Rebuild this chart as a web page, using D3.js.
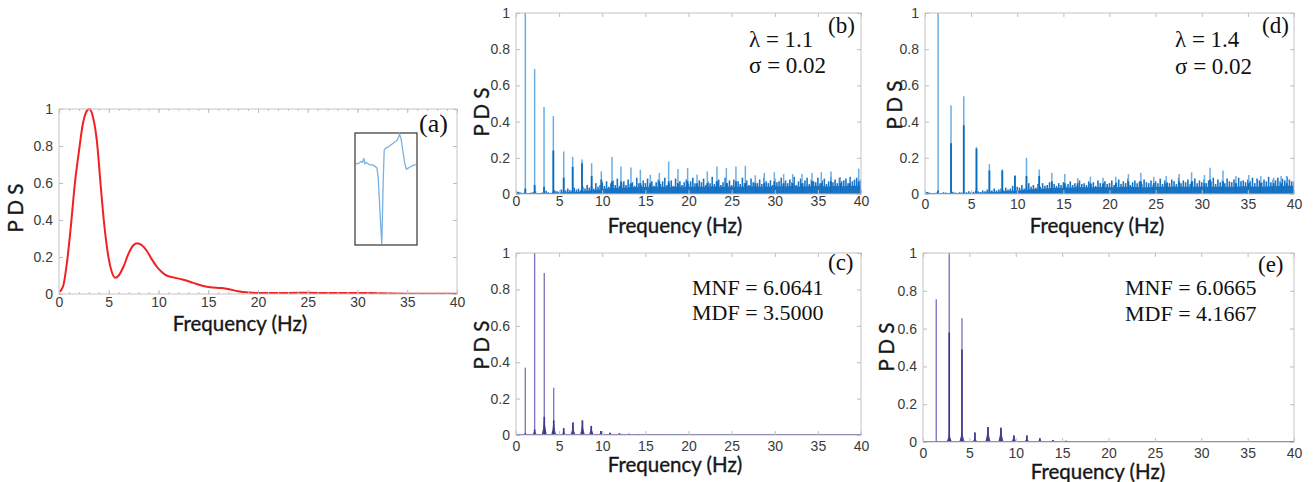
<!DOCTYPE html>
<html>
<head>
<meta charset="utf-8">
<script src="https://cdn.jsdelivr.net/npm/d3@7"></script>
<style>
  body { margin: 0; background: #fff; }
  .tick line { stroke: #bdbdbd; }
  .title { font-family: Lato, "Open Sans", sans-serif; font-size: 20.5px; fill: #161616; stroke: #161616; stroke-width: 0.35px; }
  .note { font-family: "Liberation Serif", "Times New Roman", serif; fill: #111; }
</style>
</head>
<body>
<script>
// ---- data ----
var xTicks = [0, 5, 10, 15, 20, 25, 30, 35, 40];
var yTicks = [0, 0.2, 0.4, 0.6, 0.8, 1];

// (a) smooth PDS
var aFreq = [0, 0.4, 0.8, 1.2, 1.6, 2, 2.4, 2.8, 3.05, 3.4, 3.8, 4.2, 4.5, 5, 5.3, 5.65, 6, 6.5, 7, 7.5, 7.85, 8.3, 8.8, 9.3, 9.8, 10.3, 10.8, 11.5, 12.5, 13.5, 14.5, 15.2, 16.4, 17, 18, 19, 20, 22, 24, 26, 28, 30, 32, 35, 40];
var aPds = [0.01, 0.04, 0.17, 0.37, 0.6, 0.77, 0.92, 0.99, 1.0, 0.96, 0.83, 0.58, 0.4, 0.19, 0.12, 0.088, 0.1, 0.15, 0.22, 0.265, 0.275, 0.265, 0.235, 0.19, 0.15, 0.12, 0.1, 0.09, 0.077, 0.06, 0.043, 0.036, 0.032, 0.027, 0.015, 0.008, 0.005, 0.005, 0.007, 0.006, 0.006, 0.006, 0.004, 0.002, 0.001];

// (a) inset waveform (0..1 across, 0..1 from top)
var insetT = [0, 0.04, 0.08, 0.11, 0.13, 0.15, 0.17, 0.2, 0.23, 0.27, 0.31, 0.35, 0.37, 0.39, 0.41, 0.43, 0.44, 0.455, 0.47, 0.49, 0.53, 0.58, 0.63, 0.68, 0.71, 0.725, 0.75, 0.78, 0.81, 0.84, 0.87, 0.9, 0.94, 0.97, 1];
var insetV = [0.27, 0.27, 0.25, 0.26, 0.22, 0.27, 0.26, 0.27, 0.28, 0.28, 0.29, 0.31, 0.4, 0.6, 0.82, 1.0, 0.75, 0.4, 0.15, 0.13, 0.12, 0.1, 0.08, 0.06, 0.03, 0.0, 0.04, 0.15, 0.26, 0.32, 0.31, 0.3, 0.29, 0.28, 0.28];

// (b) lambda = 1.1
var bFreq = [1.08, 2.16, 3.25, 4.33, 5.53, 6.57, 7.65, 8.77, 9.89, 11.13, 12.17, 13.33, 14.42, 15.57, 16.62, 17.7, 18.78, 19.9, 20.99, 22.18, 23.3, 24.39, 25.5, 26.59, 27.75, 28.79, 29.95, 31.03, 32.08, 33.16, 34.32, 35.4, 36.52, 37.6, 38.69, 39.73];
var bPeak = [1.0, 0.69, 0.48, 0.43, 0.235, 0.205, 0.19, 0.17, 0.125, 0.205, 0.152, 0.147, 0.134, 0.106, 0.116, 0.18, 0.138, 0.143, 0.106, 0.125, 0.152, 0.143, 0.152, 0.156, 0.103, 0.116, 0.12, 0.11, 0.11, 0.11, 0.116, 0.12, 0.125, 0.094, 0.088, 0.14];
var bBody = [0.03, 0.05, 0.04, 0.24, 0.09, 0.15, 0.17, 0.1, 0.08, 0.07, 0.07, 0.06, 0.06, 0.06, 0.07, 0.07, 0.06, 0.07, 0.06, 0.06, 0.07, 0.06, 0.07, 0.06, 0.06, 0.06, 0.07, 0.06, 0.06, 0.06, 0.07, 0.06, 0.07, 0.06, 0.06, 0.07];
var noiseStep = 0.25;
var bNoise = [
  0.02, 0.012, 0.006, 0.004, 0.012, 0.006, 0.005, 0.008, 0.01, 0.015, 0.006, 0.005, 0.008, 0.012, 0.018, 0.01, 0.006, 0.012, 0.02, 0.015,
  0.012, 0.025, 0.018, 0.02, 0.03, 0.022, 0.018, 0.035, 0.025, 0.03, 0.02, 0.04, 0.03, 0.05, 0.035, 0.045, 0.03, 0.06, 0.04, 0.05,
  0.065, 0.045, 0.07, 0.04, 0.06, 0.075, 0.05, 0.085, 0.045, 0.06, 0.07, 0.05, 0.08, 0.055, 0.065, 0.045, 0.09, 0.06, 0.05, 0.075,
  0.06, 0.085, 0.05, 0.07, 0.045, 0.065, 0.08, 0.055, 0.07, 0.09, 0.05, 0.06, 0.075, 0.045, 0.085, 0.06, 0.07, 0.05, 0.065, 0.08,
  0.055, 0.07, 0.09, 0.06, 0.05, 0.075, 0.065, 0.085, 0.05, 0.07, 0.06, 0.095, 0.055, 0.07, 0.08, 0.05, 0.065, 0.09, 0.06, 0.075,
  0.05, 0.08, 0.065, 0.07, 0.055, 0.09, 0.06, 0.075, 0.05, 0.085, 0.065, 0.07, 0.06, 0.08, 0.055, 0.09, 0.07, 0.06, 0.075, 0.05,
  0.085, 0.065, 0.07, 0.09, 0.055, 0.075, 0.06, 0.08, 0.065, 0.095, 0.05, 0.07, 0.085, 0.06, 0.075, 0.09, 0.055, 0.08, 0.07, 0.065,
  0.09, 0.06, 0.075, 0.085, 0.055, 0.07, 0.095, 0.065, 0.08, 0.06, 0.09, 0.07, 0.075, 0.085, 0.06, 0.095, 0.07, 0.08, 0.09, 0.075,
  0.08];
var bFloor = [0.012, 0.005, 0.005, 0.005, 0.006, 0.008, 0.01, 0.013, 0.017, 0.022, 0.028, 0.032, 0.035, 0.036, 0.038, 0.038, 0.04, 0.04, 0.04, 0.042, 0.04, 0.042, 0.04, 0.043, 0.04, 0.042, 0.04, 0.043, 0.042, 0.04, 0.043, 0.042, 0.044, 0.04, 0.043, 0.045, 0.042, 0.044, 0.043, 0.045, 0.046];

// (d) lambda = 1.4
var dFreq = [1.42, 2.82, 4.2, 5.58, 6.98, 8.38, 9.75, 11.0, 12.38, 13.75, 15.15, 16.55, 17.93, 19.3, 20.68, 22.05, 23.4, 24.8, 26.15, 27.55, 28.9, 30.3, 30.9, 32.3, 33.7, 35.1, 36.4, 37.8, 38.6, 39.2];
var dPeak = [1.0, 0.49, 0.54, 0.26, 0.165, 0.136, 0.105, 0.2, 0.135, 0.118, 0.11, 0.088, 0.096, 0.09, 0.095, 0.11, 0.118, 0.095, 0.1, 0.11, 0.12, 0.105, 0.145, 0.13, 0.1, 0.105, 0.1, 0.09, 0.1, 0.1];
var dBody = [0.02, 0.28, 0.38, 0.25, 0.13, 0.13, 0.1, 0.1, 0.1, 0.07, 0.06, 0.06, 0.06, 0.06, 0.06, 0.07, 0.07, 0.06, 0.06, 0.07, 0.07, 0.06, 0.08, 0.07, 0.06, 0.06, 0.06, 0.06, 0.06, 0.06];
var dNoise = [
  0.02, 0.01, 0.005, 0.004, 0.006, 0.008, 0.005, 0.006, 0.01, 0.008, 0.005, 0.006, 0.012, 0.008, 0.006, 0.01, 0.008, 0.012, 0.01, 0.015,
  0.01, 0.012, 0.02, 0.015, 0.01, 0.02, 0.015, 0.025, 0.018, 0.02, 0.03, 0.02, 0.025, 0.03, 0.02, 0.035, 0.025, 0.03, 0.045, 0.03,
  0.04, 0.035, 0.05, 0.03, 0.045, 0.06, 0.04, 0.05, 0.035, 0.055, 0.04, 0.06, 0.045, 0.05, 0.065, 0.04, 0.055, 0.045, 0.06, 0.05,
  0.065, 0.045, 0.055, 0.07, 0.05, 0.06, 0.045, 0.075, 0.055, 0.06, 0.05, 0.07, 0.055, 0.065, 0.045, 0.075, 0.06, 0.05, 0.07, 0.055,
  0.06, 0.075, 0.05, 0.065, 0.08, 0.055, 0.07, 0.06, 0.085, 0.05, 0.065, 0.075, 0.06, 0.07, 0.055, 0.08, 0.065, 0.06, 0.075, 0.05,
  0.07, 0.06, 0.085, 0.055, 0.075, 0.065, 0.06, 0.08, 0.07, 0.055, 0.09, 0.06, 0.075, 0.065, 0.08, 0.055, 0.07, 0.085, 0.06, 0.075,
  0.065, 0.08, 0.06, 0.075, 0.07, 0.09, 0.055, 0.08, 0.065, 0.075, 0.06, 0.085, 0.07, 0.065, 0.08, 0.06, 0.09, 0.07, 0.075, 0.065,
  0.08, 0.07, 0.09, 0.06, 0.085, 0.075, 0.065, 0.08, 0.07, 0.095, 0.065, 0.08, 0.075, 0.09, 0.07, 0.085, 0.075, 0.095, 0.08, 0.07,
  0.07];
var dFloor = [0.012, 0.004, 0.004, 0.005, 0.005, 0.006, 0.008, 0.01, 0.013, 0.016, 0.02, 0.024, 0.027, 0.03, 0.033, 0.034, 0.036, 0.037, 0.037, 0.039, 0.037, 0.039, 0.04, 0.039, 0.037, 0.04, 0.04, 0.042, 0.04, 0.04, 0.042, 0.04, 0.042, 0.04, 0.042, 0.043, 0.04, 0.042, 0.043, 0.044, 0.045];

// (c) denoised, lambda = 1.1
var cFreq = [1.08, 2.16, 3.28, 4.37, 5.53, 6.6, 7.7, 8.73, 9.85, 10.9, 12.0, 13.1, 14.2, 15.3, 16.4, 17.5];
var cPeak = [0.37, 1.0, 0.89, 0.26, 0.037, 0.068, 0.08, 0.05, 0.022, 0.013, 0.009, 0.007, 0.006, 0.005, 0.004, 0.003];
var cBody = [0.01, 0.03, 0.1, 0.08, 0.037, 0.068, 0.08, 0.05, 0.022, 0.013, 0.009, 0.007, 0.006, 0.005, 0.004, 0.003];
var cBase = [0.008, 0.025, 0.09, 0.07, 0.02, 0.05, 0.06, 0.04, 0.018, 0.01, 0.008, 0.006, 0.005, 0.004, 0.003, 0.002];

// (e) denoised, lambda = 1.4
var eFreq = [1.43, 2.83, 4.2, 5.6, 7.0, 8.4, 9.8, 11.2, 12.6, 14.0, 15.4, 16.8, 18.2];
var ePeak = [0.755, 1.0, 0.655, 0.05, 0.08, 0.075, 0.035, 0.035, 0.02, 0.01, 0.006, 0.004, 0.003];
var eBody = [0.005, 0.58, 0.49, 0.05, 0.08, 0.075, 0.035, 0.035, 0.02, 0.01, 0.006, 0.004, 0.003];
var eBase = [0.005, 0.045, 0.06, 0.02, 0.07, 0.07, 0.03, 0.02, 0.015, 0.008, 0.005, 0.003, 0.002];

var svg = d3.select("body").append("svg")
    .attr("width", 1313)
    .attr("height", 482);

// builds axes box, ticks and labels; returns scales + plot group
function makePanel(p) {
    var x = d3.scaleLinear().domain([0, 40]).range([p.left, p.right]);
    var y = d3.scaleLinear().domain([0, 1]).range([p.bottom, p.top]);

    svg.append("clipPath").attr("id", "clip-" + p.name)
        .append("rect")
        .attr("x", p.left).attr("y", p.top - 1)
        .attr("width", p.right - p.left).attr("height", p.bottom - p.top + 1);

    var plot = svg.append("g").attr("clip-path", "url(#clip-" + p.name + ")");
    var ax = svg.append("g");

    var yFmt = function(d) { return d === 0 ? "0" : d === 1 ? "1" : d.toFixed(1); };

    if (p.minor) {
        ax.append("g")
            .attr("transform", "translate(0," + p.bottom + ")")
            .call(d3.axisBottom(x).ticks(40).tickSizeInner(-2).tickSizeOuter(0).tickFormat(""));
        ax.append("g")
            .attr("transform", "translate(0," + p.top + ")")
            .call(d3.axisTop(x).ticks(40).tickSizeInner(-2).tickSizeOuter(0).tickFormat(""));
    }
    ax.append("g")
        .attr("transform", "translate(0," + p.bottom + ")")
        .call(d3.axisBottom(x).tickValues(xTicks).tickSizeInner(-4).tickSizeOuter(0).tickPadding(p.xPad).tickFormat(d3.format("d")));
    ax.append("g")
        .attr("transform", "translate(0," + p.top + ")")
        .call(d3.axisTop(x).tickValues(xTicks).tickSizeInner(-4).tickSizeOuter(0).tickFormat(""));
    ax.append("g")
        .attr("transform", "translate(" + p.left + ",0)")
        .call(d3.axisLeft(y).tickValues(yTicks).tickSizeInner(-4).tickSizeOuter(0).tickPadding(6).tickFormat(yFmt));
    ax.append("g")
        .attr("transform", "translate(" + p.right + ",0)")
        .call(d3.axisRight(y).tickValues(yTicks).tickSizeInner(-4).tickSizeOuter(0).tickFormat(""));
    ax.selectAll(".domain").remove();
    ax.selectAll(".tick text")
        .attr("font-family", "'Liberation Sans', Arial, sans-serif")
        .attr("font-size", 14)
        .attr("fill", "#3a3a3a");

    ax.append("rect")
        .attr("x", p.left).attr("y", p.top)
        .attr("width", p.right - p.left).attr("height", p.bottom - p.top)
        .attr("fill", "none").attr("stroke", "#c4c4c4").attr("stroke-width", 1);

    // axis titles
    svg.append("text").attr("class", "title")
        .attr("x", p.xtX).attr("y", p.xtY)
        .attr("text-anchor", "middle")
        .text("Frequency (Hz)");
    svg.append("text").attr("class", "title")
        .attr("transform", "translate(" + p.ytX + "," + p.ytY + ") rotate(-90)")
        .attr("text-anchor", "middle")
        .text("P D S");

    return { x: x, y: y, plot: plot };
}

function addNotes(lines) {
    lines.forEach(function(l) {
        svg.append("text").attr("class", "note")
            .attr("x", l[0]).attr("y", l[1])
            .style("font-size", l[3] + "px")
            .text(l[2]);
    });
}

// noisy spectra (b), (d)
function noisySpectrum(P, freq, peak, body, noise, floor) {
    var floorData = floor.map(function(v, i) { return { f: i, v: v }; });
    P.plot.append("path")
        .datum(floorData)
        .attr("d", d3.area().x(function(d) { return P.x(d.f); }).y0(P.y(0)).y1(function(d) { return P.y(d.v); }).curve(d3.curveMonotoneX))
        .attr("fill", "#1670c2");
    P.plot.selectAll(".noise").data(noise).enter().append("line")
        .attr("x1", function(d, i) { return P.x(i * noiseStep); })
        .attr("x2", function(d, i) { return P.x(i * noiseStep); })
        .attr("y1", P.y(0))
        .attr("y2", function(d) { return P.y(d); })
        .attr("stroke", "#1a74c6").attr("stroke-width", 1.6);
    P.plot.selectAll(".pk").data(freq).enter().append("line")
        .attr("x1", function(d) { return P.x(d); })
        .attr("x2", function(d) { return P.x(d); })
        .attr("y1", P.y(0))
        .attr("y2", function(d, i) { return P.y(peak[i]); })
        .attr("stroke", "#6aaee6").attr("stroke-width", 1.5);
    P.plot.selectAll(".bd").data(freq).enter().append("line")
        .attr("x1", function(d) { return P.x(d); })
        .attr("x2", function(d) { return P.x(d); })
        .attr("y1", P.y(0))
        .attr("y2", function(d, i) { return P.y(body[i]); })
        .attr("stroke", "#0a6cbd").attr("stroke-width", 1.8);
}

// clean spectra (c), (e)
function cleanSpectrum(P, freq, peak, body, base) {
    var bump = d3.area()
        .x(function(d) { return P.x(d.f); })
        .y0(P.y(0))
        .y1(function(d) { return P.y(d.v); })
        .curve(d3.curveMonotoneX);
    freq.forEach(function(f, i) {
        P.plot.append("path")
            .datum([{ f: f - 0.3, v: 0 }, { f: f - 0.12, v: base[i] * 0.5 }, { f: f, v: base[i] }, { f: f + 0.12, v: base[i] * 0.5 }, { f: f + 0.3, v: 0 }])
            .attr("d", bump)
            .attr("fill", "#3e3a8e");
    });
    P.plot.append("line")
        .attr("x1", P.x(0)).attr("x2", P.x(40))
        .attr("y1", P.y(0) - 0.5).attr("y2", P.y(0) - 0.5)
        .attr("stroke", "#5c58a6").attr("stroke-width", 1);
    P.plot.selectAll(".pk").data(freq).enter().append("line")
        .attr("x1", function(d) { return P.x(d); })
        .attr("x2", function(d) { return P.x(d); })
        .attr("y1", P.y(0))
        .attr("y2", function(d, i) { return P.y(peak[i]); })
        .attr("stroke", "#7d7ac0").attr("stroke-width", 1.4);
    P.plot.selectAll(".bd").data(freq).enter().append("line")
        .attr("x1", function(d) { return P.x(d); })
        .attr("x2", function(d) { return P.x(d); })
        .attr("y1", P.y(0))
        .attr("y2", function(d, i) { return P.y(body[i]); })
        .attr("stroke", "#3b378c").attr("stroke-width", 1.6);
}

// ---- panel (a) ----
var A = makePanel({ name: "a", left: 59, right: 457, top: 109, bottom: 294, xPad: 3, minor: true,
    xtX: 240, xtY: 331, ytX: 23, ytY: 208 });
var aLine = d3.line()
    .x(function(d, i) { return A.x(aFreq[i]); })
    .y(function(d) { return A.y(d); })
    .curve(d3.curveMonotoneX);
A.plot.append("path")
    .datum(aPds)
    .attr("d", aLine)
    .attr("fill", "none")
    .attr("stroke", "#f22020")
    .attr("stroke-width", 2);

// inset waveform
var ix = d3.scaleLinear().domain([0, 1]).range([356, 416]);
var iy = d3.scaleLinear().domain([0, 1]).range([134, 244]);
svg.append("rect").attr("x", 355).attr("y", 133).attr("width", 62).attr("height", 112)
    .attr("fill", "#fff").attr("stroke", "#333").attr("stroke-width", 1.2);
svg.append("path")
    .datum(insetV)
    .attr("d", d3.line().x(function(d, i) { return ix(insetT[i]); }).y(function(d) { return iy(d); }))
    .attr("fill", "none")
    .attr("stroke", "#78b2e2")
    .attr("stroke-width", 1.3);
addNotes([[419, 132, "(a)", 26]]);

// ---- panel (b) ----
var B = makePanel({ name: "b", left: 516, right: 861, top: 13, bottom: 194, xPad: 2,
    xtX: 675, xtY: 233, ytX: 489, ytY: 112 });
noisySpectrum(B, bFreq, bPeak, bBody, bNoise, bFloor);
addNotes([[828, 33, "(b)", 23], [749, 47, "\u03bb = 1.1", 23], [749, 73, "\u03c3 = 0.02", 23]]);

// ---- panel (c) ----
var C = makePanel({ name: "c", left: 516, right: 861, top: 253, bottom: 435, xPad: 6,
    xtX: 675, xtY: 472, ytX: 489, ytY: 345 });
cleanSpectrum(C, cFreq, cPeak, cBody, cBase);
addNotes([[828, 270, "(c)", 23], [692, 295, "MNF = 6.0641", 22], [692, 320, "MDF = 3.5000", 22]]);

// ---- panel (d) ----
var D = makePanel({ name: "d", left: 925, right: 1294, top: 13, bottom: 194, xPad: 5,
    xtX: 1097, xtY: 233, ytX: 902, ytY: 105 });
noisySpectrum(D, dFreq, dPeak, dBody, dNoise, dFloor);
addNotes([[1262, 33, "(d)", 23], [1175, 47, "\u03bb = 1.4", 23], [1175, 74, "\u03c3 = 0.02", 23]]);

// ---- panel (e) ----
var E = makePanel({ name: "e", left: 923, right: 1294, top: 253, bottom: 442, xPad: 6,
    xtX: 1098, xtY: 479, ytX: 894, ytY: 347 });
cleanSpectrum(E, eFreq, ePeak, eBody, eBase);
addNotes([[1258, 272, "(e)", 23], [1125, 295, "MNF = 6.0665", 22], [1125, 321, "MDF = 4.1667", 22]]);
</script>
</body>
</html>
